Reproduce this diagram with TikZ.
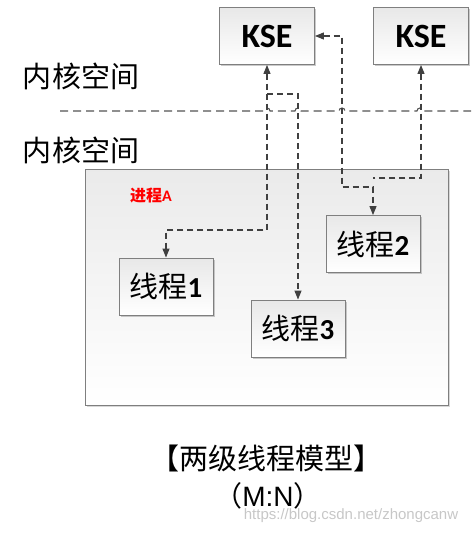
\documentclass[tikz,border=0pt]{standalone}
\usepackage{fontspec}
\setmainfont{Carlito}
\newfontfamily\cjk{Noto Sans CJK SC}
\newfontfamily\arialf{Liberation Sans}
\usetikzlibrary{arrows.meta,shadows}
\definecolor{conn}{HTML}{404040}
\definecolor{bord}{HTML}{7F7F7F}
\definecolor{topg}{HTML}{E8E8E8}
\tikzset{
  gbox/.style={draw=bord, line width=0.9pt, top color=topg, bottom color=white,
    drop shadow={shadow xshift=1.5pt, shadow yshift=-1.5pt, fill=black!35, opacity=0.6},
    inner sep=0pt},
  ksebox/.style={gbox, minimum width=95pt, minimum height=57pt, font=\fontsize{34}{34}\selectfont\bfseries},
  thrbox/.style={gbox, minimum width=94pt, minimum height=57pt, font=\fontsize{29}{29}\selectfont},
  conline/.style={draw=conn, line width=1.1pt, dash pattern=on 6pt off 4pt},
  tri/.tip={Triangle[length=9pt,width=7pt]},
  label/.style={inner sep=0pt, font=\fontsize{29}{29}\selectfont\cjk},
}
\begin{document}
\begin{tikzpicture}[x=1pt,y=-1pt]
\useasboundingbox (0,0) rectangle (471,535);
% process box
\path[draw=bord, line width=0.9pt, top color=topg!90, bottom color=white,
  drop shadow={shadow xshift=1.5pt, shadow yshift=-1.5pt, fill=black!30, opacity=0.5}]
  (85,169) rectangle (448,405);
\node[inner sep=0pt, text=red, font=\fontsize{16}{16}\selectfont\bfseries] (pa) at (151,196) {{\cjk 进程}A};
% labels
\node[label] (ks1) at (81,76) {内核空间};
\node[label] (ks2) at (81,150) {内核空间};
% boxes
\node[ksebox] (kse1) at (267,36) {KSE};
\node[ksebox] (kse2) at (421,36) {KSE};
\node[thrbox] (t1) at (166,286.5) {{\cjk 线程}\textbf{1}};
\node[thrbox] (t3) at (298,328.5) {{\cjk 线程}\textbf{3}};
\node[thrbox] (t2) at (373,244) {{\cjk 线程}\textbf{2}};
% dashed separator with hops
\draw[draw=conn!90, line width=1.1pt, dash pattern=on 8pt off 5pt]
  (60,111) -- (264,111) arc (180:360:3) -- (295,111) arc (180:360:3)
  -- (339,111) arc (180:360:3) -- (417,111) arc (180:360:3) -- (471,111);
% connectors
\coordinate (a1) at (166,230);
\coordinate (a2) at (267,230);
\coordinate (b1) at (267,94);
\coordinate (b2) at (298,94);
\coordinate (c1) at (342,36);
\coordinate (c2) at (342,187);
\coordinate (c3) at (373,187);
\coordinate (d1) at (421,178);
\coordinate (d2) at (373,178);
\draw[conline, tri-tri] (kse1.south) -- (a2) -- (a1) -- (t1.north);
\draw[conline, -tri] (b1) -- (b2) -- (t3.north);
\draw[conline, tri-tri] (kse1.east) -- (c1) -- (c2) -- (c3) -- (t2.north);
\draw[conline, tri-] (kse2.south) -- (d1) -- (d2);
% title
\node[label] (title) at (266,458) {【两级线程模型】};
\node[inner sep=0pt, font=\fontsize{28}{28}\selectfont] (mn) at (268,496) {{\cjk （}{\arialf M:N}{\cjk ）}};
\node[inner sep=0pt, text=black!22, font=\fontsize{15}{15}\selectfont\arialf] (wm) at (351,516) {https://blog.csdn.net/zhongcanw};
\end{tikzpicture}
\end{document}
